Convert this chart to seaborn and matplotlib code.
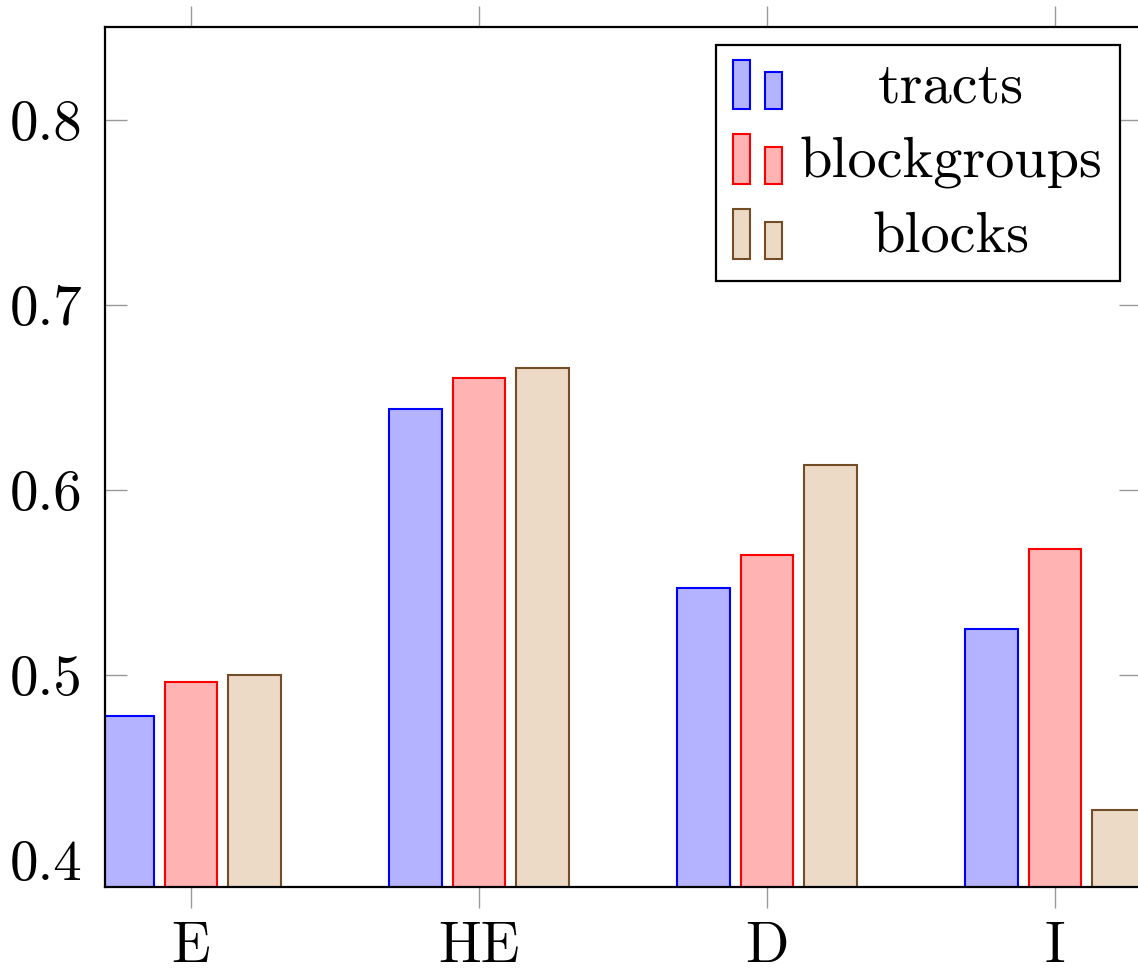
import matplotlib
matplotlib.use("Agg")
import matplotlib.pyplot as plt
import seaborn as sns
import pandas as pd
from matplotlib.patches import Rectangle
from matplotlib.legend_handler import HandlerBase

categories = ["E", "HE", "D", "I"]
series = ["tracts", "blockgroups", "blocks"]
tracts = [0.478, 0.644, 0.547, 0.525]
blockgroups = [0.496, 0.6605, 0.565, 0.568]
blocks = [0.500, 0.666, 0.6135, 0.427]
yticks = [0.4, 0.5, 0.6, 0.7, 0.8]

fills = {"tracts": (0.7, 0.7, 1.0), "blockgroups": (1.0, 0.7, 0.7), "blocks": (0.925, 0.85, 0.775)}
edges = {"tracts": (0, 0, 1), "blockgroups": (1, 0, 0), "blocks": (0.45, 0.3, 0.15)}

df = pd.DataFrame({
    "cat": categories * 3,
    "series": ["tracts"] * 4 + ["blockgroups"] * 4 + ["blocks"] * 4,
    "value": tracts + blockgroups + blocks,
})

sns.set_style("white")
plt.rcParams["font.family"] = ["cmr10", "DejaVu Sans"]
plt.rcParams["axes.formatter.use_mathtext"] = True
plt.rcParams["text.color"] = "black"

fig = plt.figure(figsize=(11.38, 9.77), dpi=100)
ax = fig.add_axes([105 / 1138, 90 / 977, 1036 / 1138, 860 / 977])

sns.barplot(data=df, x="cat", y="value", hue="series", hue_order=series,
            order=categories, palette=fills, width=0.6615, gap=0.166,
            linewidth=1.5, ax=ax, legend=False, err_kws={"linewidth": 0})

for cont, s in zip(ax.containers, series):
    for p in cont:
        p.set_edgecolor(edges[s])
        p.set_facecolor(fills[s])
        p.set_linewidth(1.5)
        p.set_clip_on(True)

ax.set_xlim(-0.2986, 3.2986)
ax.set_ylim(0.3854, 0.8503)
ax.set_yticks(yticks)
ax.set_yticklabels([f"{v:.1f}" for v in yticks])
ax.set_xlabel("")
ax.set_ylabel("")

for sp in ax.spines.values():
    sp.set_visible(True)
    sp.set_color("black")
    sp.set_linewidth(1.6)

ax.tick_params(axis="x", which="major", direction="out", length=15, width=1.0,
               color=(0.6, 0.6, 0.6), top=True, bottom=True, labelsize=41, pad=10,
               labelcolor="black")
ax.tick_params(axis="y", which="major", direction="in", length=15.5, width=1.0,
               color=(0.6, 0.6, 0.6), left=True, right=True, labelsize=41, pad=16.5,
               labelcolor="black")


class TwoBarHandler(HandlerBase):
    def __init__(self, fc, ec):
        super().__init__()
        self.fc = fc
        self.ec = ec

    def create_artists(self, legend, orig_handle, xdescent, ydescent, width, height, fontsize, trans):
        bw = width * 0.35
        r1 = Rectangle((-xdescent, -ydescent - height * 0.2), bw, height * 1.3,
                       facecolor=self.fc, edgecolor=self.ec, linewidth=1.5, transform=trans)
        r2 = Rectangle((-xdescent + width - bw, -ydescent - height * 0.2), bw, height * 0.97,
                       facecolor=self.fc, edgecolor=self.ec, linewidth=1.5, transform=trans)
        return [r1, r2]


handles = [Rectangle((0, 0), 1, 1, label=s) for s in series]
hmap = {h: TwoBarHandler(fills[s], edges[s]) for h, s in zip(handles, series)}
leg = ax.legend(handles=handles, labels=series, handler_map=hmap, loc="upper right",
                bbox_to_anchor=(0.9797, 0.979), borderaxespad=0, fontsize=42,
                frameon=True, fancybox=False, framealpha=1, edgecolor="black",
                handlelength=0.84, handleheight=0.62, handletextpad=0.3,
                labelspacing=0.4, borderpad=0.3)
leg.get_frame().set_linewidth(1.6)

fig.canvas.draw()
r = fig.canvas.get_renderer()
ws = [t.get_window_extent(r).width for t in leg.get_texts()]
mw = max(ws)
for t, w in zip(leg.get_texts(), ws):
    t.set_position(((mw - w) / 2, 0))

fig.savefig("out.png", dpi=100)
